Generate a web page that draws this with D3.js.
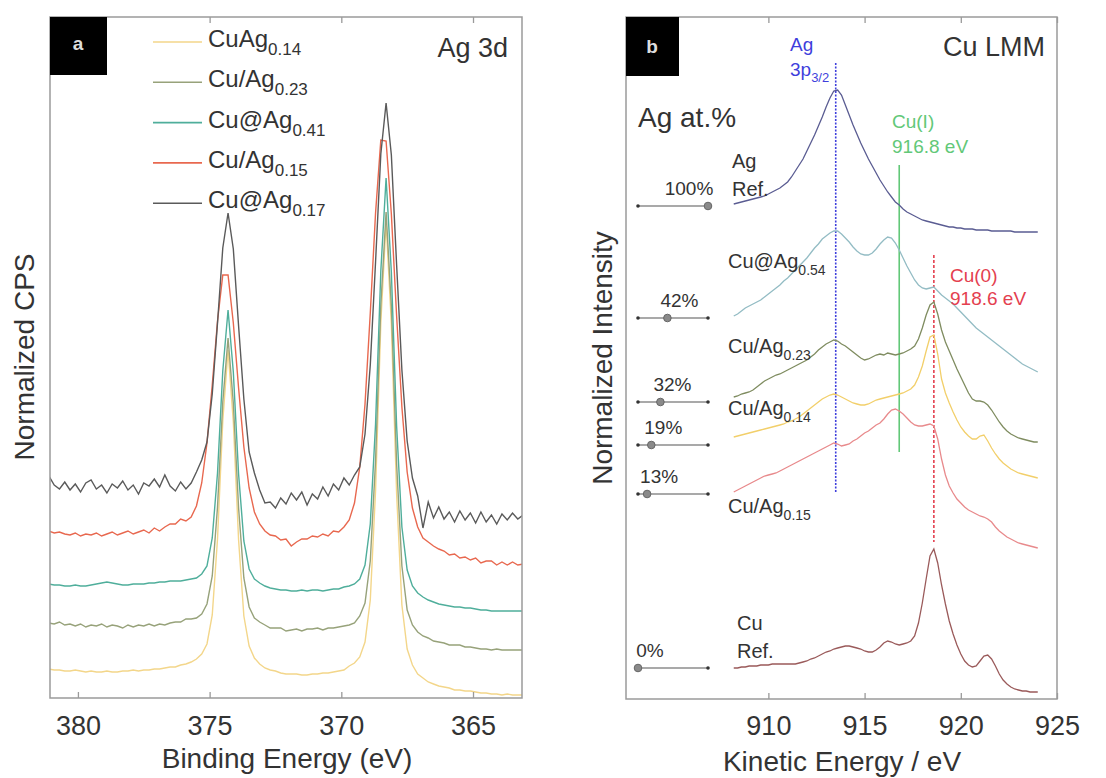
<!DOCTYPE html>
<html>
<head>
<meta charset="utf-8">
<script src="https://cdnjs.cloudflare.com/ajax/libs/d3/7.8.5/d3.min.js"></script>
<style>
	body { margin: 0; background: #fff; }
	svg { display: block; font-family: "Liberation Sans", Arial, sans-serif; }
</style>
</head>
<body>
<script>
//////////////////////////////////////////////
// Data //////////////////////////////////////
//////////////////////////////////////////////

// panel a : Ag 3d, binding energy sampled every 0.2 eV from 381.1 eV downwards
var beStart = 381.1, beStep = -0.2;
var namesA = ["CuAg", "Cu/Ag", "Cu@Ag", "Cu/Ag", "Cu@Ag"];
var subsA = ["0.14", "0.23", "0.41", "0.15", "0.17"];
var xTicksA = [380, 375, 370, 365];

var cpsCuAg14 = [29, 28, 28, 27, 27, 28, 27, 26, 27, 26,
	26, 27, 26, 26, 27, 27, 28, 27, 28, 28,
	29, 29, 30, 31, 31, 33, 34, 36, 39, 44,
	54, 83, 159, 277, 348, 276, 158, 82, 52, 40,
	34, 30, 28, 27, 25, 24, 24, 24, 23, 23,
	24, 24, 25, 25, 26, 27, 28, 32, 35, 41,
	56, 98, 207, 375, 476, 374, 204, 93, 49, 33,
	24, 20, 16, 14, 12, 11, 10, 8, 8, 7,
	7, 6, 5, 5, 4, 4, 3, 4, 3, 3, 3];
var cpsCuAg23 = [75, 74, 76, 73, 74, 72, 74, 71, 73, 72,
	74, 71, 73, 72, 70, 73, 71, 73, 72, 74,
	72, 74, 73, 75, 76, 76, 79, 79, 80, 84,
	94, 122, 191, 296, 360, 295, 190, 120, 91, 80,
	76, 73, 70, 70, 70, 67, 68, 69, 67, 69,
	69, 70, 68, 70, 70, 71, 72, 73, 75, 82,
	95, 137, 237, 393, 486, 392, 234, 132, 88, 73,
	66, 62, 60, 57, 56, 55, 53, 53, 53, 51,
	51, 50, 49, 49, 48, 49, 48, 48, 48, 48, 48];
var cpsCuAg41 = [114, 113, 113, 112, 112, 113, 112, 112, 113, 114,
	115, 116, 115, 114, 113, 113, 114, 114, 114, 115,
	115, 116, 116, 117, 117, 117, 118, 119, 120, 124,
	132, 160, 225, 327, 388, 326, 224, 157, 129, 119,
	115, 112, 110, 109, 108, 108, 107, 107, 108, 107,
	108, 108, 107, 108, 109, 109, 111, 112, 114, 119,
	133, 174, 274, 427, 520, 426, 272, 171, 128, 112,
	105, 101, 98, 96, 94, 93, 92, 91, 91, 90,
	90, 89, 88, 88, 87, 87, 87, 87, 87, 87, 87];
var cpsCuAg15 = [167, 165, 166, 164, 163, 165, 162, 164, 163, 165,
	162, 164, 166, 163, 165, 167, 164, 166, 168, 165,
	170, 167, 171, 174, 174, 179, 177, 181, 192, 215,
	255, 313, 377, 423, 423, 375, 310, 251, 210, 186,
	174, 167, 163, 162, 158, 159, 152, 156, 159, 159,
	162, 161, 164, 162, 167, 166, 171, 178, 195, 231,
	294, 385, 485, 558, 557, 484, 382, 291, 226, 190,
	171, 160, 156, 152, 149, 147, 143, 144, 140, 141,
	138, 140, 135, 137, 137, 133, 136, 133, 136, 133, 134];
var cpsCuAg17 = [222, 213, 209, 216, 208, 214, 206, 215, 218, 209,
	213, 205, 214, 210, 217, 208, 213, 204, 215, 212,
	219, 211, 223, 212, 207, 216, 209, 215, 226, 238,
	256, 304, 375, 450, 485, 449, 372, 299, 246, 225,
	208, 195, 196, 190, 200, 194, 205, 198, 206, 193,
	204, 199, 211, 202, 214, 208, 220, 213, 223, 231,
	264, 333, 436, 544, 595, 543, 433, 328, 257, 220,
	202, 170, 196, 180, 191, 179, 186, 176, 187, 178,
	185, 175, 186, 176, 183, 174, 184, 178, 185, 179, 183];

// panel b : Cu LMM, kinetic energy sampled every 0.2 eV from 908.2 eV upwards
var keStart = 908.2, keStep = 0.2;
var xTicksB = [910, 915, 920, 925];
var agPercent = [100, 42, 32, 19, 13, 0];
var refEnergies = [913.5, 916.8, 918.6];

var intAgRef = [495, 496, 497, 498, 499, 500, 501, 502, 503, 505,
	507, 509, 511, 514, 517, 522, 528, 534, 540, 548,
	556, 564, 573, 582, 592, 601, 608, 609, 604, 594,
	584, 574, 565, 556, 548, 540, 533, 526, 519, 513,
	507, 502, 497, 494, 490, 487, 485, 483, 481, 479,
	478, 477, 476, 475, 474, 473, 472, 472, 471, 471,
	470, 470, 470, 469, 469, 469, 469, 468, 468, 468,
	468, 468, 468, 467, 467, 467, 467, 467, 467, 467];
var intCuAg54 = [383, 385, 388, 391, 393, 395, 397, 399, 402, 405,
	408, 411, 414, 418, 421, 425, 429, 433, 437, 441,
	446, 451, 455, 460, 463, 466, 468, 468, 465, 461,
	457, 452, 448, 445, 444, 444, 446, 450, 455, 459,
	462, 461, 456, 449, 441, 433, 426, 419, 414, 411,
	410, 411, 412, 408, 404, 401, 398, 395, 391, 387,
	383, 379, 375, 371, 368, 365, 362, 359, 356, 353,
	350, 347, 344, 341, 338, 335, 333, 331, 329, 327];
var intCuAg23 = [302, 303, 305, 306, 307, 309, 312, 315, 318, 320,
	322, 324, 325, 327, 329, 331, 333, 335, 337, 339,
	342, 345, 349, 352, 355, 357, 359, 358, 355, 353,
	350, 347, 344, 341, 339, 340, 342, 344, 345, 344,
	346, 345, 344, 345, 346, 348, 350, 353, 360, 371,
	384, 394, 397, 385, 369, 357, 348, 339, 330, 322,
	314, 306, 300, 298, 298, 297, 294, 289, 283, 277,
	272, 268, 265, 263, 261, 260, 259, 258, 257, 257];
var intCuAg14 = [262, 263, 264, 265, 266, 267, 268, 269, 270, 271,
	272, 273, 274, 275, 277, 278, 280, 282, 285, 288,
	291, 294, 297, 300, 302, 304, 305, 304, 302, 300,
	298, 296, 295, 294, 294, 295, 297, 299, 300, 301,
	302, 303, 304, 305, 306, 308, 310, 314, 322, 333,
	348, 362, 364, 345, 320, 306, 296, 287, 279, 272,
	267, 263, 260, 260, 263, 264, 258, 251, 245, 240,
	236, 233, 230, 228, 226, 225, 224, 223, 222, 221];
var intCuAg15 = [207, 209, 211, 213, 215, 217, 219, 221, 223, 224,
	225, 226, 228, 230, 232, 234, 236, 238, 240, 242,
	244, 246, 248, 250, 252, 254, 256, 255, 253, 254,
	255, 258, 260, 263, 266, 268, 271, 274, 276, 280,
	285, 289, 290, 288, 285, 281, 277, 274, 273, 273,
	274, 275, 273, 260, 240, 224, 213, 206, 200, 196,
	192, 189, 187, 185, 183, 182, 180, 177, 172, 168,
	165, 162, 160, 158, 156, 155, 154, 153, 152, 151];
var intCuRef = [31, 31, 32, 32, 33, 33, 33, 34, 34, 34,
	35, 35, 35, 35, 35, 35, 35, 36, 37, 38,
	40, 41, 43, 45, 47, 48, 50, 51, 52, 53,
	53, 52, 51, 50, 48, 47, 47, 49, 52, 56,
	58, 57, 55, 54, 55, 56, 58, 63, 76, 96,
	120, 143, 150, 136, 114, 95, 78, 65, 54, 45,
	38, 34, 32, 33, 38, 43, 44, 40, 33, 25,
	19, 15, 12, 10, 9, 8, 8, 7, 7, 7];

//////////////////////////////////////////////
// Chart Config //////////////////////////////
//////////////////////////////////////////////

var colorsA = ["#f3d68a", "#97a27a", "#4fae9b", "#e8684f", "#5a5a5a"];
var seriesA = [cpsCuAg14, cpsCuAg23, cpsCuAg41, cpsCuAg15, cpsCuAg17];

var seriesB = [intAgRef, intCuAg54, intCuAg23, intCuAg14, intCuAg15, intCuRef];
var colorsB = ["#5a5c92", "#93bcc4", "#7f8c60", "#f2cf6a", "#e88a8c", "#9a5a5a"];
var labelsB = [["Ag", "", "Ref."], ["Cu@Ag", "0.54"], ["Cu/Ag", "0.23"], ["Cu/Ag", "0.14"], ["Cu/Ag", "0.15"], ["Cu", "", "Ref."]];
var labelPosB = [[732, 168], [728, 268], [728, 353], [728, 415], [728, 513], [737, 630]];
var sliderY = [206, 318, 402, 445, 494, 668];

var refColors = ["#3f3fdc", "#62c878", "#e4404f"];
var refDash = ["2,1.5", null, "3,2"];
var refSpan = [[207, 636], [247, 534], [157, 444]];

var textColor = "#333";
var boxColor = "#9a9a9a";

var svg = d3.select("body")
			.append("svg")
			.attr("width", 1106)
			.attr("height", 778);

// text with an optional subscript and optional second line
function addLabel(g, x, y, main, sub, size, color, line2) {
	var t = g.append("text")
			 .attr("x", x)
			 .attr("y", y)
			 .attr("fill", color)
			 .style("font-size", size + "px");
	t.append("tspan").text(main);
	if (sub) {
		t.append("tspan")
		 .attr("dy", Math.round(size * 0.34))
		 .style("font-size", Math.round(size * 0.7) + "px")
		 .text(sub);
	}
	if (line2) {
		g.append("text")
		 .attr("x", x)
		 .attr("y", y + 28)
		 .attr("fill", color)
		 .style("font-size", size + "px")
		 .text(line2);
	}
	return t;
}

function styleAxis(sel) {
	sel.select(".domain").remove();
	sel.selectAll(".tick line").attr("stroke", boxColor).attr("stroke-width", 1.3);
	sel.selectAll(".tick text")
	   .attr("fill", textColor)
	   .style("font-size", "27px")
	   .style("font-family", "'Liberation Sans', Arial, sans-serif");
}

//////////////////////////////////////////////
// Panel a ///////////////////////////////////
//////////////////////////////////////////////
var xA = d3.scaleLinear().domain([381.06, 363.14]).range([50, 522]);
var yA = d3.scaleLinear().domain([0, 681]).range([698, 17]);

var gA = svg.append("g");

svg.append("clipPath").attr("id", "clipA")
   .append("rect").attr("x", 50).attr("y", 17).attr("width", 472).attr("height", 681);

var lineA = d3.line()
			  .x(function(d, i) { return xA(beStart + i * beStep); })
			  .y(function(d) { return yA(d); });

gA.append("g").attr("clip-path", "url(#clipA)")
  .selectAll("path")
  .data(seriesA)
  .enter().append("path")
  .attr("d", lineA)
  .attr("fill", "none")
  .attr("stroke", function(d, i) { return colorsA[i]; })
  .attr("stroke-width", 1.4);

gA.append("g")
  .attr("transform", "translate(0,698)")
  .call(d3.axisBottom(xA).tickValues(xTicksA).tickSizeInner(-6).tickSizeOuter(0).tickPadding(18))
  .call(styleAxis);

gA.append("g")
  .attr("transform", "translate(0,17)")
  .call(d3.axisTop(xA).tickValues(xTicksA).tickSizeInner(-6).tickSizeOuter(0).tickFormat(""))
  .call(styleAxis);

gA.append("rect")
  .attr("x", 50).attr("y", 17).attr("width", 472).attr("height", 681)
  .attr("fill", "none").attr("stroke", boxColor).attr("stroke-width", 1.5);

gA.append("rect")
  .attr("x", 50).attr("y", 17).attr("width", 57).attr("height", 58).attr("fill", "#000");
gA.append("text")
  .attr("x", 78).attr("y", 50).attr("text-anchor", "middle")
  .attr("fill", "#ddd").style("font-size", "19px").style("font-weight", "bold")
  .text("a");

gA.append("text")
  .attr("x", 508).attr("y", 57).attr("text-anchor", "end")
  .attr("fill", textColor).style("font-size", "27px")
  .text("Ag 3d");

// legend
namesA.forEach(function(name, i) {
	var ly = 42 + i * 40.3;
	gA.append("line")
	  .attr("x1", 153).attr("x2", 202).attr("y1", ly).attr("y2", ly)
	  .attr("stroke", colorsA[i]).attr("stroke-width", 1.6);
	addLabel(gA, 208, ly + 5, name, subsA[i], 24, textColor);
});

gA.append("text")
  .attr("transform", "translate(34,357) rotate(-90)")
  .attr("text-anchor", "middle")
  .attr("fill", textColor).style("font-size", "28px")
  .text("Normalized CPS");

gA.append("text")
  .attr("x", 287).attr("y", 768).attr("text-anchor", "middle")
  .attr("fill", textColor).style("font-size", "28px")
  .text("Binding Energy (eV)");

//////////////////////////////////////////////
// Panel b ///////////////////////////////////
//////////////////////////////////////////////
var xB = d3.scaleLinear().domain([902.6, 925]).range([626, 1057]);
var yB = d3.scaleLinear().domain([0, 682]).range([699, 17]);

var gB = svg.append("g");

var lineB = d3.line()
			  .x(function(d, i) { return xB(keStart + i * keStep); })
			  .y(function(d) { return yB(d); });

// reference energy markers
refEnergies.forEach(function(e, i) {
	gB.append("line")
	  .attr("x1", xB(e)).attr("x2", xB(e))
	  .attr("y1", yB(refSpan[i][1])).attr("y2", yB(refSpan[i][0]))
	  .attr("stroke", refColors[i]).attr("stroke-width", 1.6)
	  .attr("stroke-dasharray", refDash[i]);
});

gB.selectAll("path.spec")
  .data(seriesB)
  .enter().append("path")
  .attr("class", "spec")
  .attr("d", lineB)
  .attr("fill", "none")
  .attr("stroke", function(d, i) { return colorsB[i]; })
  .attr("stroke-width", 1.3);

gB.append("g")
  .attr("transform", "translate(0,699)")
  .call(d3.axisBottom(xB).tickValues(xTicksB).tickSizeInner(-6).tickSizeOuter(0).tickPadding(17))
  .call(styleAxis);

gB.append("g")
  .attr("transform", "translate(0,17)")
  .call(d3.axisTop(xB).tickValues(xTicksB).tickSizeInner(-6).tickSizeOuter(0).tickFormat(""))
  .call(styleAxis);

gB.append("rect")
  .attr("x", 626).attr("y", 17).attr("width", 431).attr("height", 682)
  .attr("fill", "none").attr("stroke", boxColor).attr("stroke-width", 1.5);

gB.append("rect")
  .attr("x", 626).attr("y", 17).attr("width", 53).attr("height", 59).attr("fill", "#000");
gB.append("text")
  .attr("x", 652).attr("y", 53).attr("text-anchor", "middle")
  .attr("fill", "#ddd").style("font-size", "19px").style("font-weight", "bold")
  .text("b");

gB.append("text")
  .attr("x", 1045).attr("y", 56).attr("text-anchor", "end")
  .attr("fill", textColor).style("font-size", "27px")
  .text("Cu LMM");

gB.append("text")
  .attr("x", 638).attr("y", 127)
  .attr("fill", textColor).style("font-size", "28px")
  .text("Ag at.%");

// reference annotations
addLabel(gB, 790, 51, "Ag", "", 19, refColors[0]);
addLabel(gB, 790, 76, "3p", "3/2", 19, refColors[0]);
addLabel(gB, 892, 128, "Cu(I)", "", 19, refColors[1]);
addLabel(gB, 892, 153, "916.8 eV", "", 19, refColors[1]);
addLabel(gB, 950, 282, "Cu(0)", "", 19, refColors[2]);
addLabel(gB, 950, 305, "918.6 eV", "", 19, refColors[2]);

// sample labels
labelsB.forEach(function(l, i) {
	addLabel(gB, labelPosB[i][0], labelPosB[i][1], l[0], l[1], 20, textColor, l[2]);
});

// Ag content sliders
var sx = d3.scaleLinear().domain([0, 100]).range([638, 708]);
agPercent.forEach(function(p, i) {
	var sy = sliderY[i];
	gB.append("line")
	  .attr("x1", sx(0)).attr("x2", sx(100)).attr("y1", sy).attr("y2", sy)
	  .attr("stroke", "#555").attr("stroke-width", 1.2);
	gB.append("circle").attr("cx", sx(0)).attr("cy", sy).attr("r", 1.8).attr("fill", "#333");
	gB.append("circle").attr("cx", sx(100)).attr("cy", sy).attr("r", 1.8).attr("fill", "#333");
	gB.append("circle").attr("cx", sx(p)).attr("cy", sy).attr("r", 3.8)
	  .attr("fill", "#8a8a8a").attr("stroke", "#666").attr("stroke-width", 1);
	gB.append("text")
	  .attr("x", Math.min(sx(p) + 12, 689)).attr("y", sy - 11)
	  .attr("text-anchor", "middle")
	  .attr("fill", textColor).style("font-size", "19px")
	  .text(p + "%");
});

gB.append("text")
  .attr("transform", "translate(612,358) rotate(-90)")
  .attr("text-anchor", "middle")
  .attr("fill", textColor).style("font-size", "28px")
  .text("Normalized Intensity");

gB.append("text")
  .attr("x", 842).attr("y", 771).attr("text-anchor", "middle")
  .attr("fill", textColor).style("font-size", "28px")
  .text("Kinetic Energy / eV");
</script>
</body>
</html>
